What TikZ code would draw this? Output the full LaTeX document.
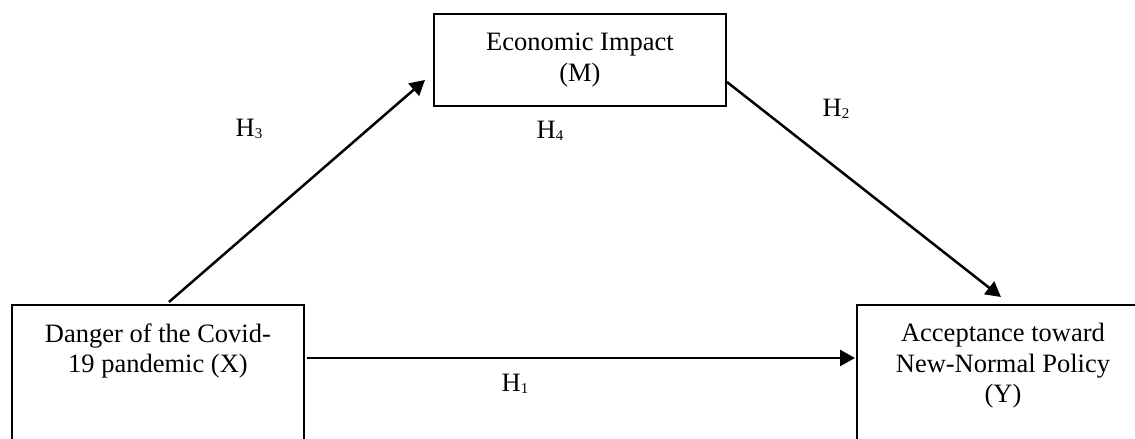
\documentclass[tikz,border=0pt]{standalone}
\usepackage{fontspec}
\setmainfont{Liberation Serif}
\usetikzlibrary{arrows.meta,calc}
\newcommand{\hsub}[1]{{\fontsize{15}{15}\selectfont\raisebox{-1.5pt}{#1}}}
\tikzset{
  box/.style={draw, line width=1.9pt, anchor=north west, inner sep=0pt},
  boxtext/.style={align=center, font=\fontsize{26.5}{30.5}\selectfont},
  arr/.style={line width=2.5pt, -{Triangle[length=15pt,width=16pt]}},
  hyp/.style={font=\fontsize{26.5}{30}\selectfont, inner sep=0pt},
}
\begin{document}
\begin{tikzpicture}[x=1pt,y=-1pt]
\useasboundingbox (0,0) rectangle (1135,439);
\clip (0,0) rectangle (1135,439);
% boxes
\node[box, minimum width=292pt, minimum height=170pt,
  label={[boxtext, anchor=north, yshift=-16pt]north:{Danger of the Covid-\\19 pandemic (X)}}]
  (X) at (11,304) {};
\node[box, minimum width=292pt, minimum height=170pt,
  label={[boxtext, anchor=north, yshift=-16pt]north:{Acceptance toward\\New-Normal Policy\\(Y)}}]
  (Y) at (856,304) {};
\node[box, minimum width=292pt, minimum height=92pt, boxtext] (M) at (433,13)
  {Economic Impact\\(M)};
% connectors
\coordinate (xs) at ($(X.north)+(11,-2)$);
\draw[arr] (xs) -- ($(M.west)+(-8,20)$);
\draw[arr] ($(M.east)+(0,22)$) -- ($(Y.north)+(-2,-7)$);
\draw[arr] ($(X.north east)+(2,54)$) -- ($(Y.north west)+(-1,54)$);
% labels
\node[hyp] (H3) at (249,129) {H\hsub{3}};
\node[hyp] (H4) at (550,131) {H\hsub{4}};
\node[hyp] (H2) at (836,109) {H\hsub{2}};
\node[hyp] (H1) at (515,384) {H\hsub{1}};
\end{tikzpicture}
\end{document}
